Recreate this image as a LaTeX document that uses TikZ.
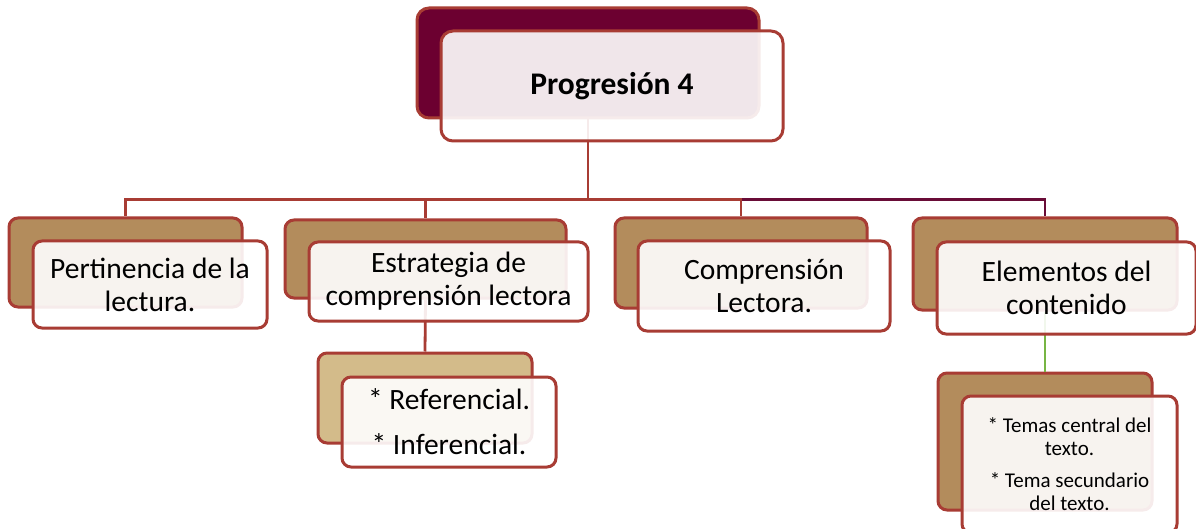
\documentclass[tikz,border=0pt]{standalone}
\usepackage{fontspec}
\setmainfont{Carlito}
\definecolor{bord}{RGB}{168,60,52}
\definecolor{maroon}{RGB}{108,0,48}
\definecolor{tan}{RGB}{179,140,92}
\definecolor{lighttan}{RGB}{211,187,138}
\definecolor{leafgreen}{RGB}{119,181,68}
\definecolor{darkconn}{RGB}{105,12,55}
\begin{document}
\begin{tikzpicture}[x=1pt,y=-1pt,
  sz/.style 2 args={minimum width=#1pt, minimum height=#2pt},
  backbox/.style={draw=bord, line width=3pt, rounded corners=9pt, inner sep=0pt, fill=tan},
  frontbox/.style={draw=bord, line width=3pt, rounded corners=9pt, fill=white,
    fill opacity=0.9, text opacity=1, inner sep=0pt, align=center,
    font=\fontsize{29.5}{33}\selectfont},
  conn/.style={draw=bord, line width=2.8pt},
  conndark/.style={draw=darkconn, line width=2.8pt},
  conngreen/.style={draw=leafgreen, line width=2.8pt}]
\clip (0,0) rectangle (1196,529);
\fill[white] (0,0) rectangle (1196,529);
% back boxes
\node[backbox, fill=maroon, rounded corners=12pt, sz={342}{110}] (top) at (588,63) {};
\node[backbox, sz={233}{89}] (b1) at (125.5,262.5) {};
\node[backbox, sz={281}{78}] (b2) at (425.5,259) {};
\node[backbox, sz={252}{90}] (b3) at (741,263) {};
\node[backbox, sz={264}{92}] (b4) at (1045,264) {};
\node[backbox, fill=lighttan, sz={214}{90}] (s1) at (425,398) {};
\node[backbox, sz={214}{137}] (s4) at (1045,441.5) {};
% connectors
\draw[conndark] (top.south) -- ++(0,80) -| (b4.north);
\draw[conn] (top.south) -- ++(0,80) -| (b1.north);
\draw[conn] (top.south) -- ++(0,80) -| (b2.north);
\draw[conn] (top.south) -- ++(0,80) -| (b3.north);
\draw[conn] (b2.south) -- (s1.north);
\draw[conngreen] (b4.south) -- (s4.north);
% front boxes
\node[frontbox, rounded corners=12pt, sz={342}{110}, font=\fontsize{31.5}{35}\selectfont\bfseries] (ftop) at (612,86) {Progresión 4};
\node[frontbox, sz={234}{87}] (f1) at (150,284.5) {Pertinencia de la\\lectura.};
\node[frontbox, sz={279}{79}] (f2) at (448.5,281.5) {Estrategia de\\comprensión lectora};
\node[frontbox, sz={252}{90}] (f3) at (764,286) {Comprensión\\Lectora.};
\node[frontbox, sz={259}{92}] (f4) at (1066.5,288) {Elementos del\\contenido};
\node[frontbox, sz={214}{90}] (fs1) at (449,422) {* Referencial.\\[12pt]* Inferencial.};
\node[frontbox, sz={215}{137}, font=\fontsize{21}{23}\selectfont] (fs4) at (1069.5,464.5) {* Temas central del\\texto.\\[9pt]* Tema secundario\\del texto.};
\end{tikzpicture}
\end{document}
